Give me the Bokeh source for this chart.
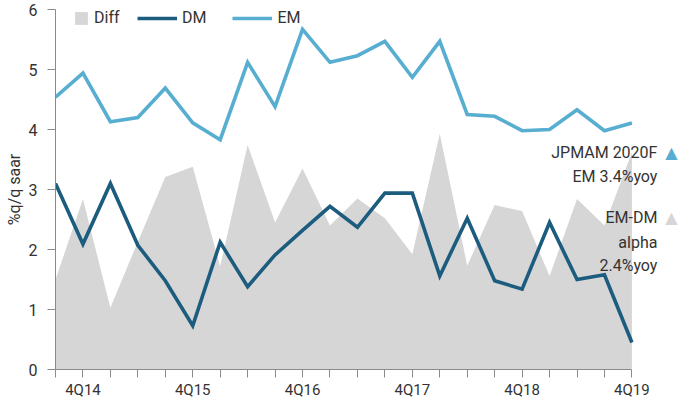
from bokeh.plotting import figure
from bokeh.models import Range1d, FixedTicker, Legend, LegendItem, Label
from bokeh.embed import file_html
from bokeh.resources import INLINE

quarters = ["3Q14", "4Q14", "1Q15", "2Q15", "3Q15", "4Q15", "1Q16", "2Q16",
            "3Q16", "4Q16", "1Q17", "2Q17", "3Q17", "4Q17", "1Q18", "2Q18",
            "3Q18", "4Q18", "1Q19", "2Q19", "3Q19", "4Q19"]
em = [4.54, 4.94, 4.13, 4.20, 4.69, 4.11, 3.83, 5.12, 4.38, 5.67, 5.12,
      5.23, 5.47, 4.87, 5.47, 4.25, 4.22, 3.98, 4.00, 4.33, 3.98, 4.11]
dm = [3.10, 2.09, 3.10, 2.07, 1.48, 0.73, 2.12, 1.38, 1.91, 2.32, 2.72,
      2.37, 2.94, 2.94, 1.56, 2.52, 1.48, 1.34, 2.45, 1.50, 1.58, 0.45]
diff = [1.50, 2.84, 1.03, 2.13, 3.21, 3.38, 1.72, 3.74, 2.45, 3.35, 2.40,
        2.85, 2.52, 1.92, 3.93, 1.73, 2.74, 2.64, 1.56, 2.84, 2.40, 3.62]
y_ticks = [0, 1, 2, 3, 4, 5, 6]
note_lines = ["JPMAM 2020F", "EM 3.4%yoy", "EM-DM", "alpha", "2.4%yoy"]

FONT = "Roboto"
TXT = "#333333"
AX = "#8a8a8a"
C_EM = "#57AED1"
C_DM = "#1C5C7E"
C_DIFF = "#D6D6D6"

xs = list(range(len(quarters)))
n_last = len(quarters) - 1
X_END = 22.77   # frame extends right of the last quarter to leave room for the notes

p = figure(width=680, height=401, output_backend="svg", toolbar_location=None,
           x_range=Range1d(0, X_END), y_range=Range1d(0, 6),
           min_border_left=55, min_border_right=0, min_border_top=9,
           min_border_bottom=32)
p.outline_line_color = None
p.xgrid.visible = False
p.ygrid.visible = False
p.background_fill_color = None
p.border_fill_color = None

area = p.varea(x=xs, y1=[0] * len(xs), y2=diff, fill_color=C_DIFF)
l_dm = p.line(xs, dm, line_color=C_DM, line_width=3.6, line_join="miter")
l_em = p.line(xs, em, line_color=C_EM, line_width=3.6, line_join="miter")

# x axis
xa = p.xaxis[0]
xa.bounds = (0, n_last)
xa.ticker = FixedTicker(ticks=xs)
xa.major_label_overrides = {i: (q if q.startswith("4Q") else "") for i, q in enumerate(quarters)}
xa.axis_line_color = AX
xa.major_tick_line_color = AX
xa.major_tick_in = 0
xa.major_tick_out = 8
xa.minor_tick_line_color = None
xa.minor_tick_out = 0
xa.major_label_standoff = 3
xa.major_label_text_font = FONT
xa.major_label_text_font_size = "15px"
xa.major_label_text_color = TXT

ya = p.yaxis[0]
ya.ticker = FixedTicker(ticks=y_ticks)
ya.axis_line_color = AX
ya.major_tick_line_color = AX
ya.major_tick_in = 0
ya.major_tick_out = 8
ya.minor_tick_line_color = None
ya.minor_tick_out = 0
ya.major_label_standoff = 10
ya.major_label_text_font = FONT
ya.major_label_text_font_size = "16px"
ya.major_label_text_color = TXT
ya.axis_label = "%q/q saar"
ya.axis_label_text_font = FONT
ya.axis_label_text_font_size = "16px"
ya.axis_label_text_font_style = "normal"
ya.axis_label_text_color = TXT
ya.axis_label_standoff = 2

common = dict(orientation="horizontal", padding=0, margin=0, spacing=26,
              label_standoff=5, glyph_height=16, label_height=16,
              border_line_color=None, background_fill_alpha=0,
              label_text_font=FONT, label_text_font_size="16px",
              label_text_color=TXT, label_text_baseline="middle")
LEG_Y = 342
leg1 = Legend(items=[LegendItem(label="Diff", renderers=[area])],
              location=(18, LEG_Y), glyph_width=16, **common)
leg2 = Legend(items=[LegendItem(label="DM", renderers=[l_dm]),
                     LegendItem(label="EM", renderers=[l_em])],
              location=(82, LEG_Y), glyph_width=40, **common)
p.add_layout(leg1)
p.add_layout(leg2)

# right-side notes (data units)
NOTE_X = 21.93
TRI_X = 22.44
note_y = [3.62, 3.21, 2.54, 2.12, 1.74]
for t, yy in zip(note_lines, note_y):
    p.add_layout(Label(x=NOTE_X, y=yy, text=t,
                       text_align="right", text_baseline="middle",
                       text_font=FONT, text_font_size="16px", text_color=TXT))
p.add_layout(Label(x=TRI_X, y=note_y[0], text="\u25B2",
                   text_align="center", text_baseline="middle",
                   text_font="DejaVu Sans", text_font_size="16px", text_color=C_EM))
p.add_layout(Label(x=TRI_X, y=note_y[2], text="\u25B2",
                   text_align="center", text_baseline="middle",
                   text_font="DejaVu Sans", text_font_size="16px", text_color=C_DIFF))

open("out.html", "w").write(file_html(p, INLINE))
